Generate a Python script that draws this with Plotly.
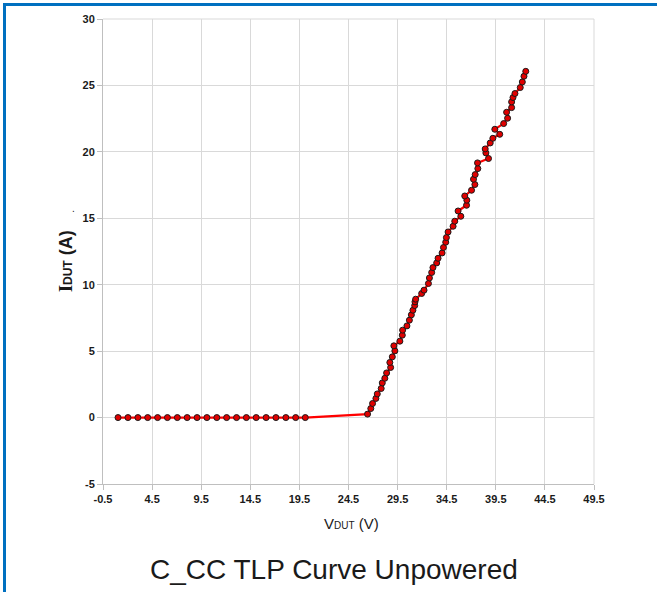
import plotly.graph_objects as go

# Flat (off-state) portion
v_flat = [1.03, 2.04, 3.05, 4.05, 5.06, 6.06, 7.07, 8.07, 9.08, 10.08,
          11.09, 12.09, 13.10, 14.10, 15.10, 16.11, 17.11, 18.12, 19.12, 20.10]
i_flat = [0.0] * 20

# Conduction portion
v_on = [26.44, 26.77, 26.95, 27.29, 27.43, 27.83, 27.94, 28.20, 28.38, 28.79,
        28.71, 28.96, 29.22, 29.12, 29.73, 29.98, 30.01, 30.45, 30.70, 30.90,
        31.06, 31.24, 31.27, 31.34, 31.95, 32.19, 32.64, 32.74, 32.97, 33.10,
        33.48, 33.62, 34.03, 34.17, 34.40, 34.47, 34.64, 35.15, 35.32, 35.94,
        35.66, 36.52, 36.55, 36.34, 37.03, 37.37, 37.23, 37.40, 37.67, 37.64,
        38.76, 38.49, 38.42, 38.93, 39.20, 39.90, 39.40, 40.30, 40.70, 40.60,
        41.11, 41.11, 41.25, 41.45, 41.99, 42.20, 42.37, 42.55]
i_on = [0.26, 0.68, 1.06, 1.44, 1.78, 2.19, 2.61, 2.96, 3.36, 3.77,
        4.15, 4.57, 5.02, 5.40, 5.75, 6.20, 6.58, 6.90, 7.33, 7.73,
        8.08, 8.43, 8.71, 8.91, 9.34, 9.59, 10.09, 10.51, 10.92, 11.29,
        11.64, 11.99, 12.39, 12.80, 13.20, 13.55, 13.97, 14.40, 14.78, 15.15,
        15.55, 15.98, 16.36, 16.68, 17.11, 17.54, 17.94, 18.29, 18.74, 19.17,
        19.50, 19.92, 20.22, 20.67, 21.02, 21.32, 21.70, 22.13, 22.53, 22.98,
        23.33, 23.76, 24.09, 24.39, 24.84, 25.26, 25.69, 26.06]

v_all = v_flat + v_on
i_all = i_flat + i_on

x_ticks = [-0.5, 4.5, 9.5, 14.5, 19.5, 24.5, 29.5, 34.5, 39.5, 44.5, 49.5]
y_ticks = [-5, 0, 5, 10, 15, 20, 25, 30]

fig = go.Figure()
fig.add_trace(go.Scatter(
    x=v_all, y=i_all, mode="lines+markers",
    line=dict(color="#ff0000", width=2.2),
    marker=dict(size=6, color="#e00000", line=dict(color="#1a1a1a", width=1)),
    showlegend=False,
))

W, H = 657, 592
L, R, T, B = 103, 63, 19, 108
pw, ph = W - L - R, H - T - B

def px(x):
    return (x - L) / pw

def py(y):
    return (H - B - y) / ph

axis_font = dict(family="Liberation Sans, Arial, sans-serif", size=11, color="#1a1a1a")

fig.update_layout(
    width=W, height=H,
    margin=dict(l=L, r=R, t=T, b=B),
    paper_bgcolor="white", plot_bgcolor="white",
    xaxis=dict(
        range=[-0.5, 49.5], tickvals=x_ticks, ticktext=[f"{v:.1f}" for v in x_ticks],
        showgrid=True, gridcolor="#d9d9d9", gridwidth=1,
        showline=True, linecolor="#bfbfbf", linewidth=1,
        ticks="outside", ticklen=5, tickcolor="#bfbfbf",
        tickfont=dict(axis_font, weight="bold"), zeroline=False,
    ),
    yaxis=dict(
        range=[-5, 30], tickvals=y_ticks, ticktext=[str(v) for v in y_ticks],
        showgrid=True, gridcolor="#d9d9d9", gridwidth=1,
        showline=True, linecolor="#bfbfbf", linewidth=1,
        ticks="outside", ticklen=5, tickcolor="#bfbfbf",
        tickfont=dict(axis_font, weight="bold"), zeroline=False,
    ),
    shapes=[
        dict(type="line", xref="paper", yref="paper",
             x0=px(4.5), x1=px(4.5), y0=py(700), y1=py(3),
             line=dict(color="#0070c0", width=3)),
        dict(type="line", xref="paper", yref="paper",
             x0=px(3), x1=px(700), y0=py(4.5), y1=py(4.5),
             line=dict(color="#0070c0", width=3)),
        dict(type="line", xref="paper", yref="paper",
             x0=0, x1=1, y0=1, y1=1, line=dict(color="#d9d9d9", width=1)),
        dict(type="line", xref="paper", yref="paper",
             x0=1, x1=1, y0=0, y1=1, line=dict(color="#d9d9d9", width=1)),
    ],
    annotations=[
        dict(text="V<span style='font-size:10px'>DUT</span> (V)",
             xref="paper", yref="paper", x=px(351), y=py(523),
             showarrow=False, xanchor="center", yanchor="middle",
             font=dict(family="Liberation Sans, Arial, sans-serif", size=15, color="#1a1a1a")),
        dict(text="<span style='font-family:Liberation Serif'>I</span><span style='font-size:12px'>DUT</span> (A)",
             xref="paper", yref="paper", x=px(66), y=py(261), textangle=-90,
             showarrow=False, xanchor="center", yanchor="middle",
             font=dict(family="Liberation Sans, Arial, sans-serif", size=18, color="#1a1a1a", weight="bold")),
        dict(text=".", xref="paper", yref="paper", x=px(73), y=py(208),
             showarrow=False, xanchor="center", yanchor="middle",
             font=dict(family="Liberation Sans, Arial, sans-serif", size=10, color="#1a1a1a")),
        dict(text="C_CC TLP Curve Unpowered",
             xref="paper", yref="paper", x=px(334), y=py(569),
             showarrow=False, xanchor="center", yanchor="middle",
             font=dict(family="Liberation Sans, Arial, sans-serif", size=28, color="#1a1a1a")),
    ],
)

fig.write_html("out.html", config={"displayModeBar": False},
               post_script="document.body.style.margin='0';document.body.style.overflow='hidden';")
